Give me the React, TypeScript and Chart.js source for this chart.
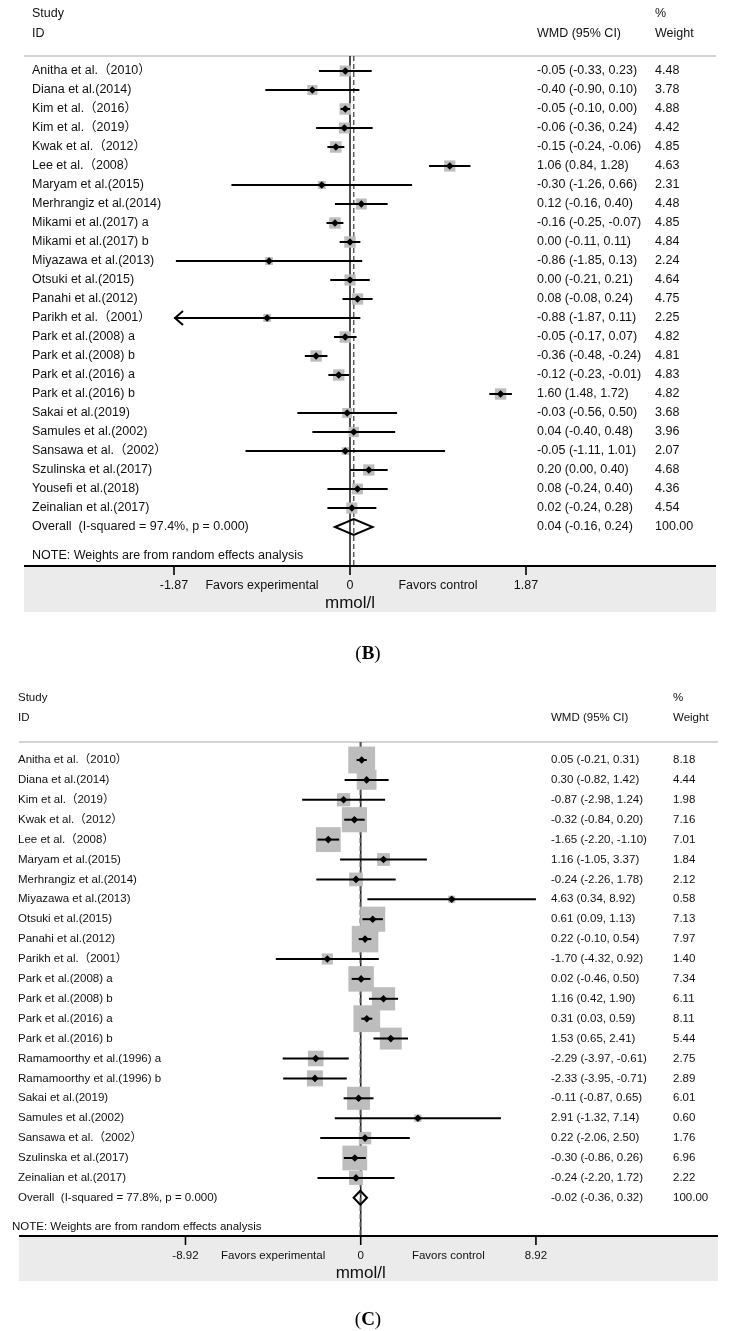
import React, { useEffect, useRef } from "react";
import { Chart, registerables } from "chart.js";
Chart.register(...registerables);

// ---------- Panel B data ----------
const studiesB = [
  "Anitha et al.（2010）", "Diana et al.(2014)", "Kim et al.（2016）", "Kim et al.（2019）",
  "Kwak et al.（2012）", "Lee et al.（2008）", "Maryam et al.(2015)", "Merhrangiz et al.(2014)",
  "Mikami et al.(2017) a", "Mikami et al.(2017) b", "Miyazawa et al.(2013)", "Otsuki et al.(2015)",
  "Panahi et al.(2012)", "Parikh et al.（2001）", "Park et al.(2008) a", "Park et al.(2008) b",
  "Park et al.(2016) a", "Park et al.(2016) b", "Sakai et al.(2019)", "Samules et al.(2002)",
  "Sansawa et al.（2002）", "Szulinska et al.(2017)", "Yousefi et al.(2018)", "Zeinalian et al.(2017)",
];
const estB = [-0.05, -0.40, -0.05, -0.06, -0.15, 1.06, -0.30, 0.12, -0.16, 0.00, -0.86, 0.00, 0.08, -0.88, -0.05, -0.36, -0.12, 1.60, -0.03, 0.04, -0.05, 0.20, 0.08, 0.02];
const loB = [-0.33, -0.90, -0.10, -0.36, -0.24, 0.84, -1.26, -0.16, -0.25, -0.11, -1.85, -0.21, -0.08, -1.87, -0.17, -0.48, -0.23, 1.48, -0.56, -0.40, -1.11, 0.00, -0.24, -0.24];
const hiB = [0.23, 0.10, 0.00, 0.24, -0.06, 1.28, 0.66, 0.40, -0.07, 0.11, 0.13, 0.21, 0.24, 0.11, 0.07, -0.24, -0.01, 1.72, 0.50, 0.48, 1.01, 0.40, 0.40, 0.28];
const weightB = [4.48, 3.78, 4.88, 4.42, 4.85, 4.63, 2.31, 4.48, 4.85, 4.84, 2.24, 4.64, 4.75, 2.25, 4.82, 4.81, 4.83, 4.82, 3.68, 3.96, 2.07, 4.68, 4.36, 4.54];
const overallB = [0.04, -0.16, 0.24];
const overallLabelB = "Overall  (I-squared = 97.4%, p = 0.000)";
const arrowRowsB = [13];
const ticksB = [-1.87, 0, 1.87];

// ---------- Panel C data ----------
const studiesC = [
  "Anitha et al.（2010）", "Diana et al.(2014)", "Kim et al.（2019）", "Kwak et al.（2012）",
  "Lee et al.（2008）", "Maryam et al.(2015)", "Merhrangiz et al.(2014)", "Miyazawa et al.(2013)",
  "Otsuki et al.(2015)", "Panahi et al.(2012)", "Parikh et al.（2001）", "Park et al.(2008) a",
  "Park et al.(2008) b", "Park et al.(2016) a", "Park et al.(2016) b", "Ramamoorthy et al.(1996) a",
  "Ramamoorthy et al.(1996) b", "Sakai et al.(2019)", "Samules et al.(2002)", "Sansawa et al.（2002）",
  "Szulinska et al.(2017)", "Zeinalian et al.(2017)",
];
const estC = [0.05, 0.30, -0.87, -0.32, -1.65, 1.16, -0.24, 4.63, 0.61, 0.22, -1.70, 0.02, 1.16, 0.31, 1.53, -2.29, -2.33, -0.11, 2.91, 0.22, -0.30, -0.24];
const loC = [-0.21, -0.82, -2.98, -0.84, -2.20, -1.05, -2.26, 0.34, 0.09, -0.10, -4.32, -0.46, 0.42, 0.03, 0.65, -3.97, -3.95, -0.87, -1.32, -2.06, -0.86, -2.20];
const hiC = [0.31, 1.42, 1.24, 0.20, -1.10, 3.37, 1.78, 8.92, 1.13, 0.54, 0.92, 0.50, 1.90, 0.59, 2.41, -0.61, -0.71, 0.65, 7.14, 2.50, 0.26, 1.72];
const weightC = [8.18, 4.44, 1.98, 7.16, 7.01, 1.84, 2.12, 0.58, 7.13, 7.97, 1.40, 7.34, 6.11, 8.11, 5.44, 2.75, 2.89, 6.01, 0.60, 1.76, 6.96, 2.22];
const overallC = [-0.02, -0.36, 0.32];
const overallLabelC = "Overall  (I-squared = 77.8%, p = 0.000)";
const arrowRowsC: number[] = [];
const ticksC = [-8.92, 0, 8.92];

const NOTE = "NOTE: Weights are from random effects analysis";

type Cfg = {
  letter: string; height: number;
  studies: string[]; est: number[]; lo: number[]; hi: number[]; weight: number[];
  overall: number[]; overallLabel: string; arrowRows: number[]; ticks: number[];
  area: { left: number; right: number; top: number; bottom: number };
  zeroPx: number; tickPx: number; row0: number; rowStep: number;
  font: number; labelX: number; noteX: number; noteY: number; wmdX: number; weightX: number;
  head1Y: number; head2Y: number; grayH: number; tickLabelY: number; unitY: number; letterY: number;
  boxK: number; diamondH: number; showDash: boolean;
};

const cfgB: Cfg = {
  letter: "B", height: 670,
  studies: studiesB, est: estB, lo: loB, hi: hiB, weight: weightB,
  overall: overallB, overallLabel: overallLabelB, arrowRows: arrowRowsB, ticks: ticksB,
  area: { left: 24, right: 716, top: 56, bottom: 566 },
  zeroPx: 350, tickPx: 526, row0: 71, rowStep: 19,
  font: 12.5, labelX: 32, noteX: 32, noteY: 556, wmdX: 537, weightX: 655,
  head1Y: 14, head2Y: 34, grayH: 46, tickLabelY: 586, unitY: 603, letterY: 654,
  boxK: 5.2, diamondH: 8, showDash: true,
};

const cfgC: Cfg = {
  letter: "C", height: 661,
  studies: studiesC, est: estC, lo: loC, hi: hiC, weight: weightC,
  overall: overallC, overallLabel: overallLabelC, arrowRows: arrowRowsC, ticks: ticksC,
  area: { left: 10, right: 728, top: 72, bottom: 566 },
  zeroPx: 361, tickPx: 541, row0: 90, rowStep: 19.9,
  font: 11.5, labelX: 18, noteX: 12, noteY: 557, wmdX: 551, weightX: 673,
  head1Y: 28, head2Y: 48, grayH: 45, tickLabelY: 586, unitY: 603, letterY: 650,
  boxK: 9.4, diamondH: 7, showDash: true,
};

const SANS = '"Liberation Sans", Arial, "Noto Sans CJK SC", sans-serif';

function makePlugin(cfg: Cfg) {
  return {
    id: "forest" + cfg.letter,
    beforeDatasetsDraw(chart: any) {
      const { ctx, chartArea: a } = chart;
      const xs = chart.scales.x;
      ctx.save();
      ctx.fillStyle = "#ffffff";
      ctx.fillRect(0, 0, chart.width, chart.height);
      ctx.fillStyle = "#ebebeb";
      ctx.fillRect(a.left, a.bottom, a.right - a.left, cfg.grayH);
      ctx.strokeStyle = "#c4c4c4";
      ctx.lineWidth = 1.5;
      ctx.beginPath();
      ctx.moveTo(a.left, a.top);
      ctx.lineTo(a.right, a.top);
      ctx.stroke();
      const x0 = xs.getPixelForValue(0);
      ctx.strokeStyle = "#222";
      ctx.lineWidth = 1.6;
      ctx.beginPath();
      ctx.moveTo(x0, a.top);
      ctx.lineTo(x0, a.bottom);
      ctx.stroke();
      if (cfg.showDash) {
        const xo = xs.getPixelForValue(cfg.overall[0]);
        ctx.strokeStyle = "#555";
        ctx.lineWidth = 1.4;
        ctx.setLineDash([5, 3]);
        ctx.beginPath();
        ctx.moveTo(xo, a.top);
        ctx.lineTo(xo, a.bottom);
        ctx.stroke();
        ctx.setLineDash([]);
      }
      ctx.restore();
    },
    afterDatasetDraw(chart: any, args: any) {
      if (args.index !== 1) return;
      const { ctx } = chart;
      const xs = chart.scales.x;
      const ys = chart.scales.y;
      ctx.save();
      ctx.strokeStyle = "#000";
      ctx.lineWidth = 2;
      cfg.est.forEach((_, i) => {
        const y = ys.getPixelForValue(i);
        const xl = xs.getPixelForValue(cfg.lo[i]);
        const xh = xs.getPixelForValue(cfg.hi[i]);
        ctx.beginPath();
        ctx.moveTo(xl, y);
        ctx.lineTo(xh, y);
        ctx.stroke();
        if (cfg.arrowRows.includes(i)) {
          ctx.beginPath();
          ctx.moveTo(xl + 9, y - 7);
          ctx.lineTo(xl + 1, y);
          ctx.lineTo(xl + 9, y + 7);
          ctx.stroke();
        }
      });
      ctx.restore();
    },
    afterDraw(chart: any) {
      const { ctx, chartArea: a } = chart;
      const xs = chart.scales.x;
      const ys = chart.scales.y;
      const n = cfg.studies.length;
      ctx.save();
      // overall diamond
      const yo = ys.getPixelForValue(n);
      const xe = xs.getPixelForValue(cfg.overall[0]);
      const xl = xs.getPixelForValue(cfg.overall[1]);
      const xh = xs.getPixelForValue(cfg.overall[2]);
      ctx.strokeStyle = "#000";
      ctx.lineWidth = 2;
      ctx.beginPath();
      ctx.moveTo(xl, yo);
      ctx.lineTo(xe, yo - cfg.diamondH);
      ctx.lineTo(xh, yo);
      ctx.lineTo(xe, yo + cfg.diamondH);
      ctx.closePath();
      ctx.stroke();

      // texts
      const f = `${cfg.font}px ${SANS}`;
      ctx.font = f;
      ctx.fillStyle = "#111";
      ctx.textBaseline = "middle";
      ctx.textAlign = "left";
      ctx.fillText("Study", cfg.labelX, cfg.head1Y);
      ctx.fillText("ID", cfg.labelX, cfg.head2Y);
      ctx.fillText("WMD (95% CI)", cfg.wmdX, cfg.head2Y);
      ctx.fillText("%", cfg.weightX, cfg.head1Y);
      ctx.fillText("Weight", cfg.weightX, cfg.head2Y);
      const fmt = (v: number) => v.toFixed(2);
      cfg.studies.forEach((s, i) => {
        const y = ys.getPixelForValue(i);
        ctx.fillText(s, cfg.labelX, y);
        ctx.fillText(`${fmt(cfg.est[i])} (${fmt(cfg.lo[i])}, ${fmt(cfg.hi[i])})`, cfg.wmdX, y);
        ctx.fillText(fmt(cfg.weight[i]), cfg.weightX, y);
      });
      ctx.fillText(cfg.overallLabel, cfg.labelX, yo);
      ctx.fillText(`${fmt(cfg.overall[0])} (${fmt(cfg.overall[1])}, ${fmt(cfg.overall[2])})`, cfg.wmdX, yo);
      ctx.fillText("100.00", cfg.weightX, yo);
      ctx.fillText(NOTE, cfg.noteX, cfg.noteY);

      // axis
      ctx.strokeStyle = "#000";
      ctx.lineWidth = 2;
      ctx.beginPath();
      ctx.moveTo(a.left, a.bottom);
      ctx.lineTo(a.right, a.bottom);
      ctx.stroke();
      ctx.lineWidth = 1.6;
      ctx.textAlign = "center";
      cfg.ticks.forEach((t) => {
        const x = xs.getPixelForValue(t);
        ctx.beginPath();
        ctx.moveTo(x, a.bottom);
        ctx.lineTo(x, a.bottom + 9);
        ctx.stroke();
        ctx.fillText(t === 0 ? "0" : t.toFixed(2), x, cfg.tickLabelY);
      });
      const lim = cfg.ticks[cfg.ticks.length - 1];
      ctx.fillText("Favors experimental", xs.getPixelForValue(-lim / 2), cfg.tickLabelY);
      ctx.fillText("Favors control", xs.getPixelForValue(lim / 2), cfg.tickLabelY);
      ctx.font = `17px ${SANS}`;
      ctx.fillText("mmol/l", xs.getPixelForValue(0), cfg.unitY);

      // panel letter
      ctx.fillStyle = "#000";
      ctx.textAlign = "left";
      const cx = 368;
      const sz = 19;
      ctx.font = `${sz}px "Liberation Serif", serif`;
      const wp = ctx.measureText("(").width;
      const wr = ctx.measureText(")").width;
      ctx.font = `bold ${sz}px "Liberation Serif", serif`;
      const wl = ctx.measureText(cfg.letter).width;
      let sx = cx - (wp + wl + wr) / 2;
      ctx.font = `${sz}px "Liberation Serif", serif`;
      ctx.fillText("(", sx, cfg.letterY);
      sx += wp;
      ctx.font = `bold ${sz}px "Liberation Serif", serif`;
      ctx.fillText(cfg.letter, sx, cfg.letterY);
      sx += wl;
      ctx.font = `${sz}px "Liberation Serif", serif`;
      ctx.fillText(")", sx, cfg.letterY);
      ctx.restore();
    },
  };
}

function ForestPanel({ cfg }: { cfg: Cfg }) {
  const ref = useRef<HTMLCanvasElement>(null);
  useEffect(() => {
    const canvas = ref.current;
    if (!canvas) return;
    const a = cfg.area;
    const lim = cfg.ticks[cfg.ticks.length - 1];
    const ppu = (cfg.tickPx - cfg.zeroPx) / lim;
    const xmin = -(cfg.zeroPx - a.left) / ppu;
    const xmax = (a.right - cfg.zeroPx) / ppu;
    const ymin = (a.top - cfg.row0) / cfg.rowStep;
    const ymax = (a.bottom - cfg.row0) / cfg.rowStep;
    const points = cfg.est.map((e, i) => ({ x: e, y: i }));
    const boxRadius = cfg.weight.map((w) => (cfg.boxK * Math.sqrt(w)) / Math.SQRT2);
    const chart = new Chart(canvas, {
      type: "scatter",
      data: {
        datasets: [
          {
            label: "estimate",
            data: points,
            pointStyle: "rectRot",
            pointRadius: 3.8,
            backgroundColor: "#000",
            borderColor: "#000",
            borderWidth: 0,
          },
          {
            label: "weight",
            data: points,
            pointStyle: "rect",
            pointRadius: boxRadius,
            backgroundColor: "#bdbdbd",
            borderColor: "#bdbdbd",
            borderWidth: 0,
          },
        ],
      },
      options: {
        animation: false,
        responsive: false,
        devicePixelRatio: 1,
        layout: {
          padding: { left: a.left, right: 737 - a.right, top: a.top, bottom: cfg.height - a.bottom },
        },
        plugins: { legend: { display: false }, tooltip: { enabled: false } },
        scales: {
          x: { type: "linear", min: xmin, max: xmax, display: false },
          y: { type: "linear", min: ymin, max: ymax, reverse: true, display: false },
        },
      },
      plugins: [makePlugin(cfg)],
    } as any);
    return () => chart.destroy();
  }, [cfg]);
  return (
    <canvas
      ref={ref}
      width={737}
      height={cfg.height}
      style={{ display: "block", width: 737, height: cfg.height }}
    />
  );
}

export default function App() {
  return (
    <div style={{ position: "absolute", left: 0, top: 0, width: 737, background: "#fff" }}>
      <ForestPanel cfg={cfgB} />
      <ForestPanel cfg={cfgC} />
    </div>
  );
}
